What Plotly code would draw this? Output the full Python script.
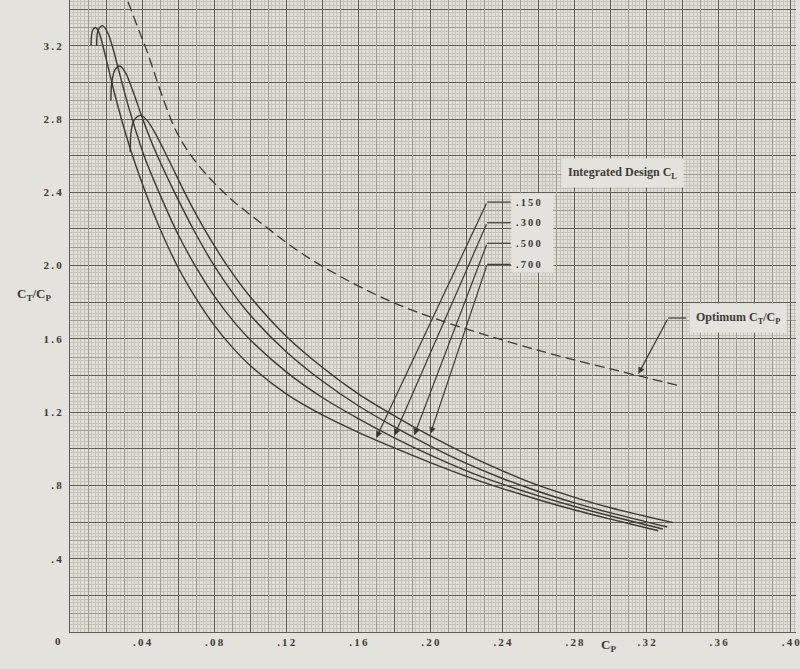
import numpy as np
import plotly.graph_objects as go

# ---- data -------------------------------------------------------------
# C_T/C_P against C_P for four values of integrated design lift coefficient
cp_150 = [0.0117, 0.0120, 0.0128, 0.0141, 0.0160, 0.018, 0.021, 0.025, 0.030, 0.0347, 0.0415,
          0.050, 0.060, 0.070, 0.080, 0.090, 0.100, 0.120, 0.140, 0.160, 0.180, 0.200, 0.220,
          0.240, 0.260, 0.280, 0.300, 0.3265]
ct_150 = [3.20, 3.26, 3.29, 3.30, 3.275, 3.21, 3.09, 2.93, 2.75, 2.60, 2.41,
          2.20, 1.99, 1.82, 1.675, 1.555, 1.455, 1.30, 1.185, 1.09, 1.005, 0.925, 0.85,
          0.783, 0.722, 0.666, 0.616, 0.553]

cp_300 = [0.0148, 0.0152, 0.0165, 0.0181, 0.0210, 0.024, 0.028, 0.033, 0.0411, 0.0494, 0.060,
          0.070, 0.080, 0.090, 0.100, 0.120, 0.140, 0.160, 0.180, 0.200, 0.220, 0.240, 0.260,
          0.280, 0.300, 0.329]
ct_300 = [3.20, 3.27, 3.30, 3.31, 3.27, 3.18, 3.03, 2.85, 2.60, 2.40, 2.17,
          1.99, 1.835, 1.705, 1.595, 1.42, 1.28, 1.165, 1.06, 0.965, 0.88, 0.807, 0.743,
          0.685, 0.633, 0.562]

cp_500 = [0.0227, 0.0232, 0.0250, 0.0277, 0.0310, 0.0350, 0.0400, 0.0450, 0.0503, 0.058, 0.070,
          0.080, 0.090, 0.100, 0.120, 0.140, 0.160, 0.180, 0.200, 0.220, 0.240, 0.260, 0.280,
          0.300, 0.3314]
ct_500 = [2.90, 3.00, 3.07, 3.09, 3.05, 2.95, 2.81, 2.68, 2.56, 2.40, 2.17,
          2.00, 1.855, 1.73, 1.53, 1.37, 1.235, 1.12, 1.015, 0.92, 0.838, 0.767, 0.705,
          0.65, 0.573]

cp_700 = [0.0334, 0.0340, 0.0360, 0.0393, 0.0430, 0.0480, 0.0549, 0.0636, 0.070, 0.080, 0.090,
          0.100, 0.120, 0.140, 0.160, 0.180, 0.200, 0.220, 0.240, 0.260, 0.280, 0.300, 0.3347]
ct_700 = [2.62, 2.74, 2.80, 2.82, 2.79, 2.71, 2.575, 2.40, 2.28, 2.11, 1.96,
          1.83, 1.615, 1.445, 1.30, 1.18, 1.07, 0.97, 0.88, 0.80, 0.735, 0.678, 0.597]

# optimum C_T/C_P envelope (dashed)
cp_opt = [0.0322, 0.0347, 0.0384, 0.0420, 0.0457, 0.0494, 0.0540, 0.0586, 0.0641, 0.0715,
          0.0807, 0.0897, 0.105, 0.132, 0.169, 0.200, 0.259, 0.315, 0.339]
ct_opt = [3.44, 3.375, 3.28, 3.19, 3.085, 2.975, 2.85, 2.74, 2.645, 2.545,
          2.445, 2.36, 2.24, 2.045, 1.845, 1.72, 1.54, 1.40, 1.342]

design_cl = [".150", ".300", ".500", ".700"]
series_cp = [cp_150, cp_300, cp_500, cp_700]
series_ct = [ct_150, ct_300, ct_500, ct_700]
# C_P at which each leader arrow meets its curve
arrow_cp = [0.170, 0.180, 0.191, 0.200]

x_ticks = [0.04, 0.08, 0.12, 0.16, 0.20, 0.24, 0.28, 0.32, 0.36, 0.40]
x_ticktext = [".04", ".08", ".12", ".16", ".20", ".24", ".28", ".32", ".36", ".40"]
y_ticks = [0.4, 0.8, 1.2, 1.6, 2.0, 2.4, 2.8, 3.2]
y_ticktext = [".4", ".8", "1.2", "1.6", "2.0", "2.4", "2.8", "3.2"]

# ---- styling ------------------------------------------------------------
PAPER = "#e4e2dd"
PLOT_BG = "#dfded7"
FINE = "#c6c5bd"
MID = "#9c9c94"
HEAVY = "#5e5e57"
INK = "#3a3a35"
TXT = "#3c3c38"
SERIF = "Liberation Serif, DejaVu Serif, serif"

X_RANGE = [0, 0.4029]
Y_RANGE = [0, 3.45]


def spaced(s):
    # typewriter-like spacing between characters
    return "\u2009".join(s)


fig = go.Figure()

# empty traces so the overlay grid axes exist
fig.add_trace(go.Scatter(x=[], y=[], xaxis="x2", yaxis="y", showlegend=False))
fig.add_trace(go.Scatter(x=[], y=[], xaxis="x3", yaxis="y", showlegend=False))
fig.add_trace(go.Scatter(x=[], y=[], xaxis="x", yaxis="y2", showlegend=False))
fig.add_trace(go.Scatter(x=[], y=[], xaxis="x", yaxis="y3", showlegend=False))

# optimum envelope
fig.add_trace(go.Scatter(
    x=cp_opt, y=ct_opt, mode="lines", showlegend=False, hoverinfo="skip",
    line=dict(color=INK, width=1.3, dash="10px,5px", shape="spline", smoothing=1.0),
))

# design-C_L curves
for cps, cts, name in zip(series_cp, series_ct, design_cl):
    fig.add_trace(go.Scatter(
        x=cps, y=cts, mode="lines", name=name, showlegend=False,
        line=dict(color=INK, width=1.4, shape="spline", smoothing=0.9),
    ))

# ---- leader lines and labels ---------------------------------------------
label_y = [2.347, 2.234, 2.122, 2.007]
bend_cp = 0.2315
stub_end_cp = 0.2445
label_cp = 0.2465

for lab, ly, cps, cts, acp in zip(design_cl, label_y, series_cp, series_ct, arrow_cp):
    tip_y = float(np.interp(acp, cps, cts))
    fig.add_trace(go.Scatter(
        x=[bend_cp, stub_end_cp], y=[ly, ly], mode="lines", showlegend=False,
        hoverinfo="skip", line=dict(color=INK, width=1.2),
    ))
    fig.add_annotation(
        x=acp, y=tip_y + 0.012, ax=bend_cp, ay=ly, axref="x", ayref="y",
        xref="x", yref="y", text="", showarrow=True,
        arrowhead=2, arrowsize=1.1, arrowwidth=1.2, arrowcolor=INK,
    )

# box behind the C_L values
fig.add_shape(type="rect", xref="x", yref="y",
              x0=label_cp - 0.0015, x1=label_cp + 0.0218,
              y0=label_y[-1] - 0.045, y1=label_y[0] + 0.048,
              fillcolor=PAPER, line_width=0, layer="above")
for lab, ly in zip(design_cl, label_y):
    fig.add_annotation(x=label_cp, y=ly, xref="x", yref="y", xanchor="left",
                       text=spaced(lab), showarrow=False,
                       font=dict(family=SERIF, size=10.5, color=TXT, weight="bold"))

fig.add_annotation(x=0.3068, y=2.507, xref="x", yref="y",
                   text="Integrated Design C<sub>L</sub>", showarrow=False,
                   bgcolor=PAPER, borderpad=6,
                   font=dict(family=SERIF, size=12, color=TXT, weight="bold"))

# optimum label and leader
opt_tip_cp = 0.3154
opt_tip_y = float(np.interp(opt_tip_cp, cp_opt, ct_opt))
opt_label_y = 1.714
fig.add_trace(go.Scatter(
    x=[0.332, 0.342], y=[opt_label_y, opt_label_y], mode="lines", showlegend=False,
    hoverinfo="skip", line=dict(color=INK, width=1.2),
))
fig.add_annotation(
    x=opt_tip_cp, y=opt_tip_y + 0.01, ax=0.332, ay=opt_label_y, axref="x", ayref="y",
    xref="x", yref="y", text="", showarrow=True,
    arrowhead=2, arrowsize=1.1, arrowwidth=1.2, arrowcolor=INK,
)
fig.add_annotation(x=0.3706, y=opt_label_y, xref="x", yref="y",
                   text="Optimum C<sub>T</sub>/C<sub>P</sub>", showarrow=False,
                   bgcolor=PAPER, borderpad=6,
                   font=dict(family=SERIF, size=12, color=TXT, weight="bold"))

# axis titles and origin label
fig.add_annotation(x=0.2988, y=0, xref="x", yref="paper", yshift=-24,
                   text="C<sub>P</sub>", showarrow=False, xanchor="center",
                   font=dict(family=SERIF, size=13, color=TXT, weight="bold"))
fig.add_annotation(x=0, y=1.84, xref="paper", yref="y", xshift=-36,
                   text="C<sub>T</sub>/C<sub>P</sub>", showarrow=False, xanchor="center",
                   font=dict(family=SERIF, size=13, color=TXT, weight="bold"))
fig.add_annotation(x=0, y=0, xref="x", yref="y", xshift=-12, yshift=-9,
                   text="0", showarrow=False,
                   font=dict(family=SERIF, size=11, color=TXT, weight="bold"))

# ---- axes (three grid weights) ------------------------------------------
tickfont = dict(family=SERIF, size=11, color=TXT, weight="bold")
fig.update_layout(
    width=800, height=669,
    margin=dict(l=70, r=0, t=0, b=37),
    paper_bgcolor=PAPER, plot_bgcolor=PLOT_BG,
    showlegend=False,
    xaxis=dict(range=X_RANGE, tickmode="array", tickvals=x_ticks,
               ticktext=[spaced(t) for t in x_ticktext], ticklabeloverflow="allow",
               showgrid=False, zeroline=False, showline=True, linecolor=HEAVY,
               linewidth=1.3, ticks="", tickfont=tickfont, ticklabelstandoff=0,
               minor=dict(tickmode="linear", tick0=0, dtick=0.002, showgrid=True,
                          gridcolor=FINE, gridwidth=1, ticks="")),
    xaxis2=dict(range=X_RANGE, overlaying="x", anchor="y", matches="x",
                tickmode="linear", tick0=0, dtick=0.01, showgrid=True,
                gridcolor=MID, gridwidth=1, showticklabels=False, zeroline=False),
    xaxis3=dict(range=X_RANGE, overlaying="x", anchor="y", matches="x",
                tickmode="linear", tick0=0, dtick=0.02, showgrid=True,
                gridcolor=HEAVY, gridwidth=1.2, showticklabels=False, zeroline=False),
    yaxis=dict(range=Y_RANGE, tickmode="array", tickvals=y_ticks,
               ticktext=[spaced(t) for t in y_ticktext],
               showgrid=False, zeroline=False, showline=True, linecolor=HEAVY,
               linewidth=1.3, ticks="", tickfont=tickfont, ticklabelstandoff=5,
               minor=dict(tickmode="linear", tick0=0, dtick=0.02, showgrid=True,
                          gridcolor=FINE, gridwidth=1, ticks="")),
    yaxis2=dict(range=Y_RANGE, overlaying="y", anchor="x", matches="y",
                tickmode="linear", tick0=0, dtick=0.1, showgrid=True,
                gridcolor=MID, gridwidth=1, showticklabels=False, zeroline=False),
    yaxis3=dict(range=Y_RANGE, overlaying="y", anchor="x", matches="y",
                tickmode="linear", tick0=0, dtick=0.2, showgrid=True,
                gridcolor=HEAVY, gridwidth=1.2, showticklabels=False, zeroline=False),
)

fig.write_html("out.html")
